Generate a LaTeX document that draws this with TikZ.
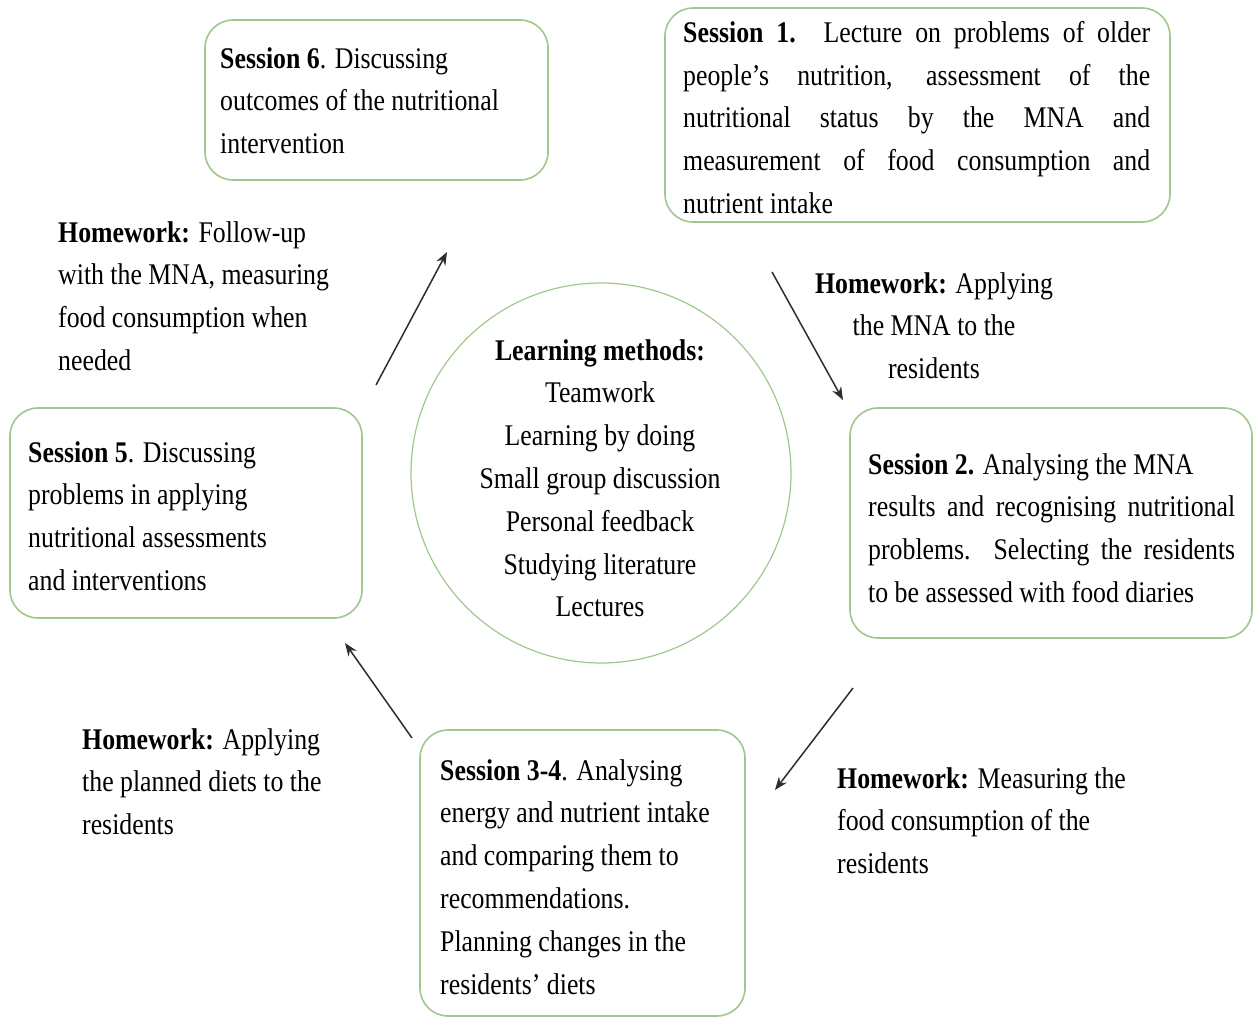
\documentclass[tikz,border=0pt]{standalone}
\usepackage{fontspec}
\setmainfont[FakeStretch=0.86]{Liberation Serif}
\usetikzlibrary{arrows.meta}
\definecolor{boxgreen}{RGB}{160,200,140}
\definecolor{arrowgray}{RGB}{45,45,45}

\begin{document}
\begin{tikzpicture}[x=1pt,y=-1pt,
  sessbox/.style={draw=boxgreen,line width=1.6pt,rounded corners=28pt,inner sep=0pt},
  txt/.style={inner sep=0pt,align=left,anchor=north west,font=\fontsize{30}{42.8}\selectfont},
  flow/.style={draw=arrowgray,line width=1.5pt,-{Stealth[length=13pt,width=10pt]}}]
\useasboundingbox (0,0) rectangle (1255,1019);

% session boxes
\node[sessbox,minimum width=343pt,minimum height=160pt] (s6box) at (376.5,100) {};
\node[sessbox,minimum width=505pt,minimum height=214pt] (s1box) at (917.5,115) {};
\node[sessbox,minimum width=402pt,minimum height=230pt] (s2box) at (1051,523) {};
\node[sessbox,minimum width=325pt,minimum height=286pt] (s34box) at (582.5,873) {};
\node[sessbox,minimum width=352pt,minimum height=210pt] (s5box) at (186,513) {};
\node[draw=boxgreen,line width=1.2pt,circle,minimum size=380pt,inner sep=0pt] (circ) at (601,473) {};

% session texts
\node[txt] (s6) at (220,47) {\textbf{Session 6}. Discussing\\ outcomes of the nutritional\\ intervention};
\node[txt] (s1) at (683,21) {\makebox[467pt][s]{\textbf{Session 1.} Lecture on problems of older}\\
  \makebox[467pt][s]{people’s nutrition, assessment of the}\\
  \makebox[467pt][s]{nutritional status by the MNA and}\\
  \makebox[467pt][s]{measurement of food consumption and}\\
  nutrient intake};
\node[txt] (s2) at (868,453) {\textbf{Session 2.} Analysing the MNA\\
  \makebox[367pt][s]{results and recognising nutritional}\\
  \makebox[367pt][s]{problems. Selecting the residents}\\
  to be assessed with food diaries};
\node[txt] (s34) at (440,759) {\textbf{Session 3-4}. Analysing\\ energy and nutrient intake\\ and comparing them to\\ recommendations.\\ Planning changes in the\\ residents’ diets};
\node[txt] (s5) at (28,441) {\textbf{Session 5}. Discussing\\ problems in applying\\ nutritional assessments\\ and interventions};

% learning methods
\node[txt,align=center,anchor=north] (methods) at (600,339) {\textbf{Learning methods:}\\ Teamwork\\ Learning by doing\\ Small group discussion\\ Personal feedback\\ Studying literature\\ Lectures};

% homework
\node[txt] (hw1) at (58,221) {\textbf{Homework:} Follow-up\\ with the MNA, measuring\\ food consumption when\\ needed};
\node[txt,align=center,anchor=north] (hw2) at (934,272) {\textbf{Homework:} Applying\\ the MNA to the\\ residents};
\node[txt] (hw3) at (837,767) {\textbf{Homework:} Measuring the\\ food consumption of the\\ residents};
\node[txt] (hw4) at (82,728) {\textbf{Homework:} Applying\\ the planned diets to the\\ residents};

% arrows
\coordinate (a1s) at (376,385);
\coordinate (a1e) at (447,252);
\coordinate (a2s) at (772,272);
\coordinate (a2e) at (843,400);
\coordinate (a3s) at (853,688);
\coordinate (a3e) at (775,790);
\coordinate (a4s) at (412,738);
\coordinate (a4e) at (345,643);
\draw[flow] (a1s) -- (a1e);
\draw[flow] (a2s) -- (a2e);
\draw[flow] (a3s) -- (a3e);
\draw[flow] (a4s) -- (a4e);
\end{tikzpicture}
\end{document}
